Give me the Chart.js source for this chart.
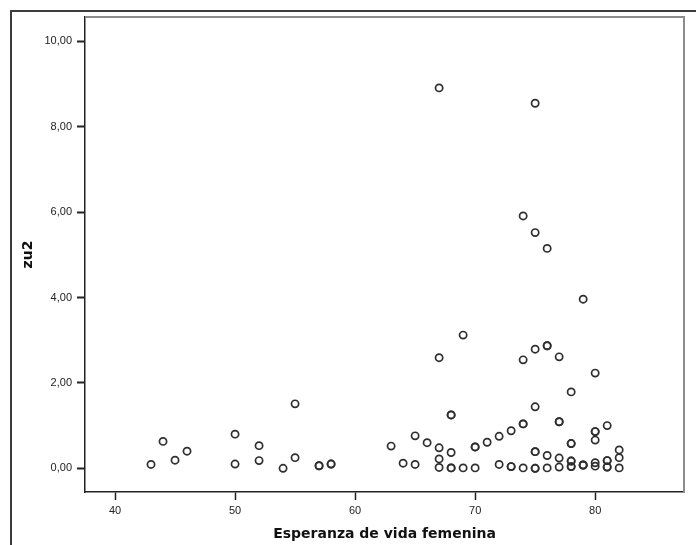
<!DOCTYPE html>
<html>
<head>
<meta charset="utf-8">
<script src="https://cdn.jsdelivr.net/npm/chart.js@4"></script>
<style>
  html, body { margin: 0; padding: 0; background: #ffffff; }
  #box { width: 696px; height: 545px; }
</style>
</head>
<body>
<div id="box"><canvas id="scatterChart"></canvas></div>
<script>
// Werte
const esperanza = [
  43, 44, 45, 46, 50, 50, 52, 52, 54, 55, 55, 57, 57, 58, 58,
  63, 64, 65, 65, 66,
  67, 67, 67, 67, 67,
  68, 68, 68, 68, 68,
  69, 69,
  70, 70, 70,
  71,
  72, 72,
  73, 73, 73,
  74, 74, 74, 74, 74,
  75, 75, 75, 75, 75, 75, 75, 75,
  76, 76, 76, 76, 76,
  77, 77, 77, 77, 77,
  78, 78, 78, 78, 78, 78, 78,
  79, 79, 79, 79,
  80, 80, 80, 80, 80, 80,
  81, 81, 81, 81, 81,
  82, 82, 82
];
const zu2 = [
  0.09, 0.63, 0.19, 0.40, 0.80, 0.10, 0.53, 0.18, 0.00, 1.51, 0.25, 0.06, 0.06, 0.10, 0.10,
  0.52, 0.12, 0.76, 0.09, 0.60,
  8.91, 2.59, 0.48, 0.22, 0.02,
  1.25, 1.25, 0.37, 0.01, 0.01,
  3.12, 0.01,
  0.50, 0.50, 0.01,
  0.61,
  0.75, 0.09,
  0.88, 0.04, 0.04,
  5.91, 2.54, 1.04, 1.04, 0.01,
  8.55, 5.52, 2.79, 1.44, 0.39, 0.39, 0.00, 0.00,
  5.15, 2.87, 2.87, 0.30, 0.01,
  2.61, 1.09, 1.09, 0.24, 0.03,
  1.79, 0.58, 0.58, 0.17, 0.17, 0.04, 0.04,
  3.96, 0.08, 0.08, 0.07,
  2.23, 0.86, 0.86, 0.66, 0.13, 0.05,
  1.00, 0.18, 0.18, 0.03, 0.03,
  0.43, 0.25, 0.01
];
const xTicks = [40, 50, 60, 70, 80];
const yTicks = [0, 2, 4, 6, 8, 10];
const xTitel = "Esperanza de vida femenina";
const yTitel = "zu2";

document.addEventListener("DOMContentLoaded", () => {
  const canvas = document.getElementById("scatterChart");
  const ctx = canvas.getContext("2d");

  const punkte = esperanza.map((x, i) => ({ x: x, y: zu2[i] }));

  // Rahmen wie im SPSS-Diagramm
  const rahmen = {
    id: "rahmen",
    beforeDraw(chart) {
      const c = chart.ctx;
      c.save();
      c.fillStyle = "#ffffff";
      c.fillRect(0, 0, chart.width, chart.height);
      c.fillStyle = "#3c3c3c";
      c.fillRect(10, 10, chart.width - 10, 2);
      c.fillRect(10, 10, 2, chart.height - 10);
      c.restore();
    },
    afterDraw(chart) {
      const a = chart.chartArea;
      const c = chart.ctx;
      c.save();
      c.fillStyle = "#8c8c8c";
      c.fillRect(a.left, a.top - 1, a.right - a.left + 1, 2);
      c.fillRect(a.right - 1, a.top - 1, 2, a.bottom - a.top + 1);
      c.restore();
    }
  };

  const tickFont = { family: "'Liberation Sans', Arial, sans-serif", size: 11 };
  const titelFont = { family: "'DejaVu Sans', Verdana, sans-serif", size: 14, weight: "bold" };

  new Chart(ctx, {
    type: "scatter",
    data: {
      datasets: [{
        label: yTitel,
        data: punkte,
        pointStyle: "circle",
        pointRadius: 3.6,
        borderWidth: 1.7,
        borderColor: "#2e2e2e",
        backgroundColor: "rgba(255,255,255,0)",
      }]
    },
    options: {
      responsive: true,
      maintainAspectRatio: false,
      animation: false,
      layout: { padding: { top: 17, right: 12, bottom: 0, left: 12 } },
      plugins: { legend: { display: false }, tooltip: { enabled: false } },
      scales: {
        x: {
          type: "linear",
          min: 37.5,
          max: 87.4,
          afterFit: (scale) => { scale.height = 53; },
          afterBuildTicks: (scale) => { scale.ticks = xTicks.map(v => ({ value: v })); },
          grid: {
            drawOnChartArea: false,
            drawTicks: true,
            tickLength: 8,
            tickWidth: 1.5,
            tickColor: "#222222",
          },
          border: { display: true, color: "#222222", width: 1.5 },
          ticks: { color: "#222222", font: tickFont, padding: 4, maxRotation: 0 },
          title: {
            display: true,
            text: xTitel,
            color: "#111111",
            font: titelFont,
            padding: { top: 0, bottom: 2 },
          },
        },
        y: {
          type: "linear",
          min: -0.555,
          max: 10.57,
          afterFit: (scale) => { scale.width = 73; },
          afterBuildTicks: (scale) => { scale.ticks = yTicks.map(v => ({ value: v })); },
          grid: {
            drawOnChartArea: false,
            drawTicks: true,
            tickLength: 8,
            tickWidth: 2,
            tickColor: "#222222",
          },
          border: { display: true, color: "#222222", width: 1.5 },
          ticks: {
            color: "#222222",
            font: tickFont,
            padding: 5,
            callback: (v) => Number(v).toFixed(2).replace(".", ","),
          },
          title: {
            display: true,
            text: yTitel,
            color: "#111111",
            font: titelFont,
            padding: { top: 8, bottom: 0 },
          },
        }
      }
    },
    plugins: [rahmen]
  });
});
</script>
</body>
</html>
